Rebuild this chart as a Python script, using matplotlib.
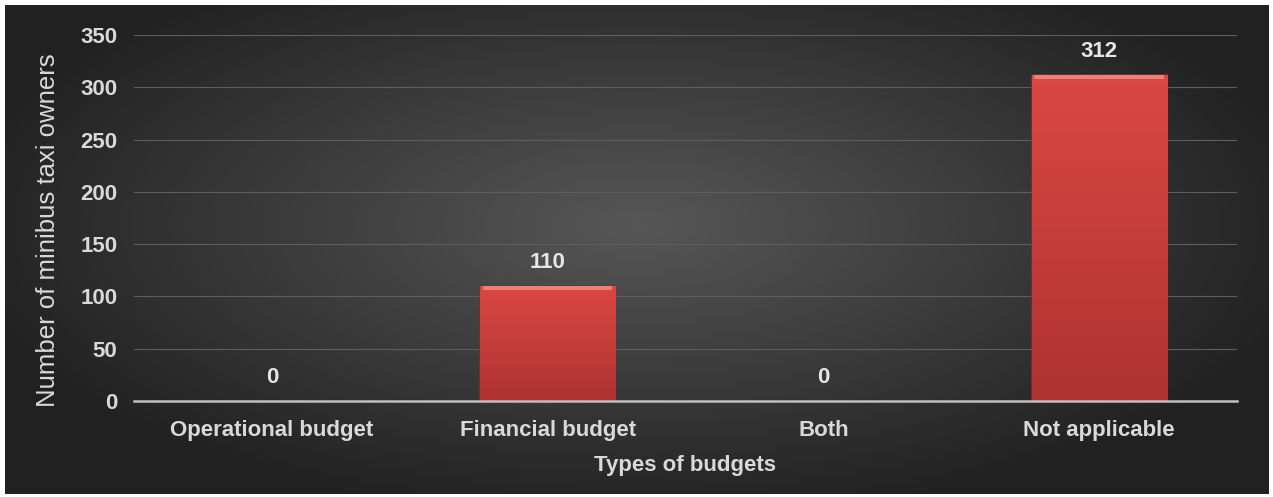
import numpy as np
from matplotlib import pyplot as plt

plt.rcParams['font.family'] = ['Liberation Sans', 'DejaVu Sans']

categories = ["Operational budget", "Financial budget", "Both", "Not applicable"]
owners = [0, 110, 0, 312]
y_ticks = [0, 50, 100, 150, 200, 250, 300, 350]

W, H = 1273, 497
fig = plt.figure(figsize=(W / 100, H / 100), dpi=100)
fig.patch.set_facecolor("white")

# dark radial background with a thin white frame
bg = fig.add_axes([5 / W, 3 / H, 1 - 9 / W, 1 - 8 / H])
gx, gy = np.meshgrid(np.linspace(-1, 1, 600), np.linspace(-1, 1, 240))
r = np.sqrt(gx ** 2 + ((gy + 0.1) / 1.1) ** 2)
shade = np.clip(0.34 - 0.19 * r, 0.13, 0.34)
bg.imshow(np.dstack([shade] * 3), aspect="auto", extent=[0, 1, 0, 1], interpolation="bilinear")
bg.set_axis_off()

ax = fig.add_axes([134 / W, 1 - 401 / H, (1237 - 134) / W, (401 - 35) / H])
ax.patch.set_alpha(0)

x = np.arange(len(categories))
edge_w = [1.2 if v > 0 else 0 for v in owners]
bars = ax.bar(x, owners, width=0.49, color="#d8433f", edgecolor="#8f2523", linewidth=edge_w, zorder=3)

# vertical shading inside each bar (lighter at top, darker at bottom)
grad = np.linspace(0, 1, 100).reshape(-1, 1)
top_c = np.array([0.86, 0.28, 0.26])
bot_c = np.array([0.68, 0.20, 0.19])
grad_img = bot_c + (top_c - bot_c) * grad
for b, v in zip(bars, owners):
    if v <= 0:
        continue
    x0 = b.get_x()
    im = ax.imshow(grad_img[:, None, :].repeat(2, axis=1), origin="lower", aspect="auto",
                   extent=[x0, x0 + b.get_width(), 0, v], zorder=3.5, interpolation="bilinear")
    im.set_clip_path(b)
    ax.bar(b.get_x() + b.get_width() / 2, 4, bottom=v - 4, width=b.get_width() * 0.96,
           color="#ef7f77", linewidth=0, zorder=4)

for xi, v in zip(x, owners):
    ax.text(xi, v + 12, str(v), ha="center", va="bottom", color="#e6e6e6",
            fontsize=16, fontweight="bold")

ax.set_xlim(-0.5, len(categories) - 0.5)
ax.set_ylim(0, 350)
ax.set_yticks(y_ticks)
ax.set_xticks(x)
ax.set_xticklabels(categories)
ax.tick_params(axis="y", length=0, pad=12, labelsize=16, labelcolor="#d9d9d9")
ax.tick_params(axis="x", length=0, pad=14, labelsize=16, labelcolor="#d9d9d9")
for lbl in ax.get_xticklabels() + ax.get_yticklabels():
    lbl.set_fontweight("bold")

ax.grid(axis="y", color="#5e5e5e", linewidth=0.8, zorder=0)
for s in ["top", "right", "left"]:
    ax.spines[s].set_visible(False)
ax.spines["bottom"].set_color("#bfbfbf")
ax.spines["bottom"].set_linewidth(1.8)
ax.spines["bottom"].set_zorder(5)

ax.set_xlabel("Types of budgets", color="#d9d9d9", fontsize=16, fontweight="bold", labelpad=10)
ax.set_ylabel("Number of minibus taxi owners", color="#d9d9d9", fontsize=18.5)
ax.yaxis.set_label_coords(-0.067, 0.467)

fig.savefig("out.png", dpi=100)
